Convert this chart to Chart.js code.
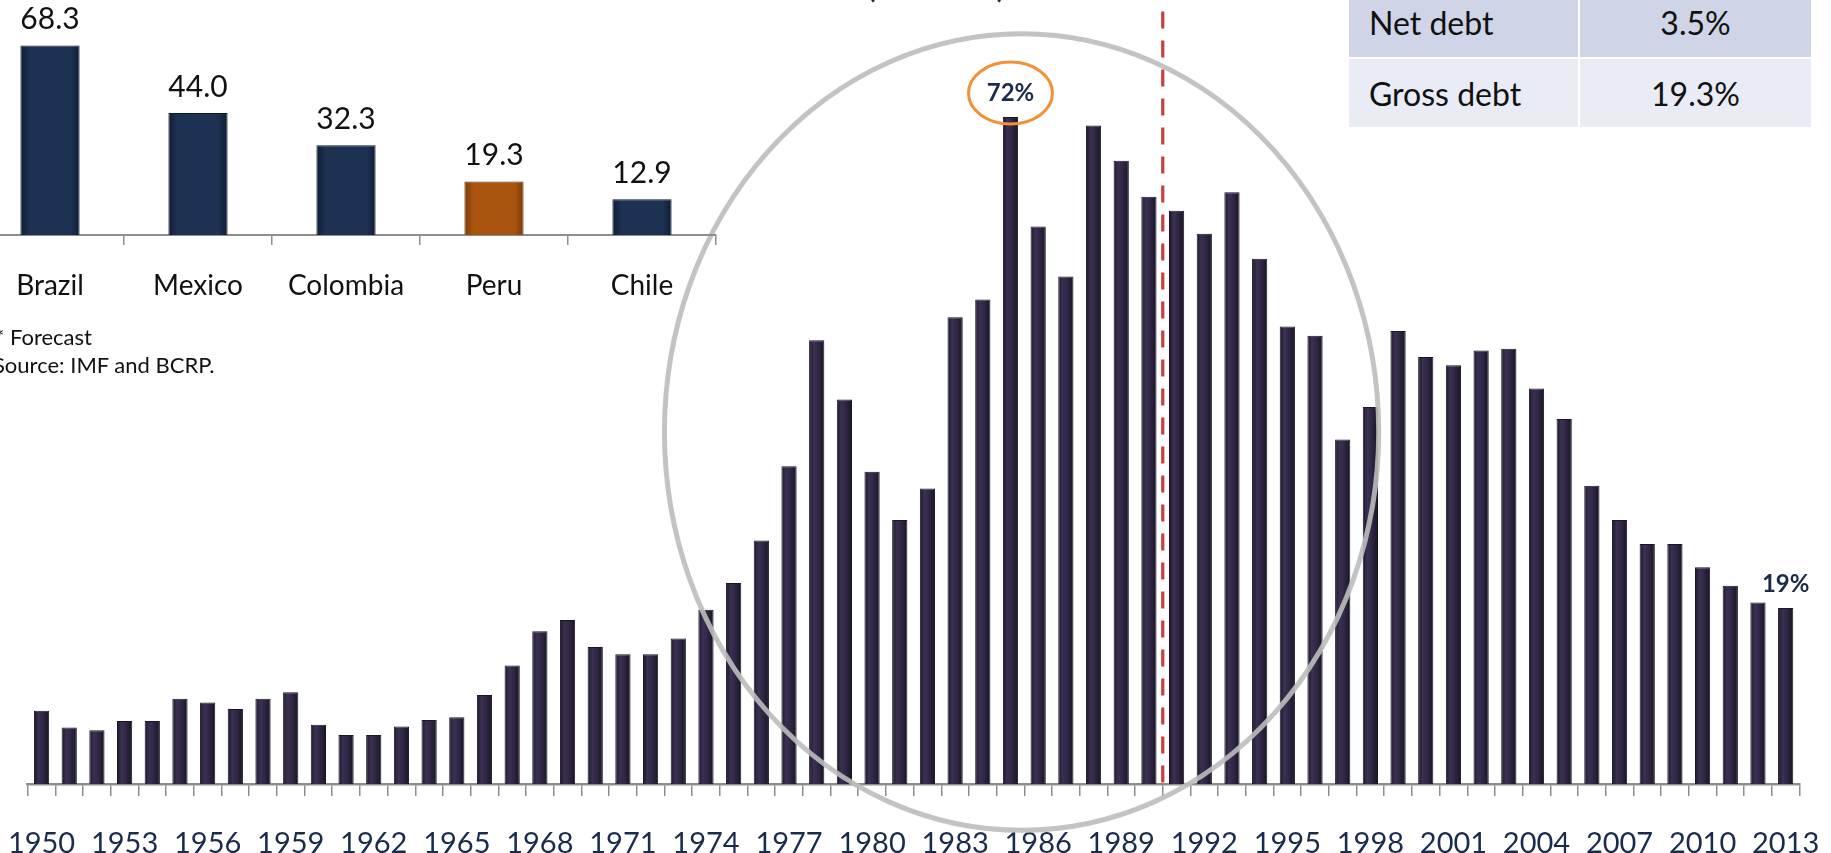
<!DOCTYPE html>
<html lang="en">
<head>
<meta charset="utf-8">
<title>Peru: public debt</title>
<script src="https://cdn.jsdelivr.net/npm/chart.js@4.4.1/dist/chart.umd.min.js"></script>
<style>
  html, body { margin: 0; padding: 0; background: #fff; }
  body { position: relative; width: 1831px; height: 853px; overflow: hidden; font-family: Lato, "Open Sans", sans-serif; }
  canvas { position: absolute; }
  #debtChart { left: 0; top: 0; }
  #peerChart { left: -24px; top: 0; }
  .note { position: absolute; font-size: 22px; line-height: 30px; color: #111; white-space: nowrap; }
  .cell { position: absolute; display: flex; align-items: center; box-sizing: border-box; font-size: 32px; color: #111; white-space: nowrap; }
</style>
</head>
<body>
<canvas id="debtChart" width="1831" height="853"></canvas>
<canvas id="peerChart" width="760" height="300"></canvas>
<div class="note" style="left:-5px;top:322px">* Forecast</div>
<div class="note" style="left:-7px;top:350px">Source: IMF and BCRP.</div>
<div id="ratios"></div>
<script>
// Gross public debt, % of GDP, 1950-2013
const years = [
  1950, 1951, 1952, 1953, 1954, 1955, 1956, 1957, 1958, 1959,
  1960, 1961, 1962, 1963, 1964, 1965, 1966, 1967, 1968, 1969,
  1970, 1971, 1972, 1973, 1974, 1975, 1976, 1977, 1978, 1979,
  1980, 1981, 1982, 1983, 1984, 1985, 1986, 1987, 1988, 1989,
  1990, 1991, 1992, 1993, 1994, 1995, 1996, 1997, 1998, 1999,
  2000, 2001, 2002, 2003, 2004, 2005, 2006, 2007, 2008, 2009,
  2010, 2011, 2012, 2013
];
const grossDebt = [
  7.9, 6.1, 5.8, 6.8, 6.8, 9.2, 8.8, 8.1, 9.2, 9.9,
  6.4, 5.3, 5.3, 6.2, 6.9, 7.2, 9.6, 12.8, 16.5, 17.7,
  14.8, 14.0, 14.0, 15.7, 18.8, 21.7, 26.3, 34.3, 47.9, 41.5,
  33.7, 28.5, 31.9, 50.4, 52.3, 72, 60.2, 54.8, 71.1, 67.3,
  63.4, 61.9, 59.4, 63.9, 56.7, 49.4, 48.4, 37.2, 40.7, 48.9,
  46.1, 45.2, 46.8, 47.0, 42.7, 39.4, 32.2, 28.5, 25.9, 25.9,
  23.4, 21.4, 19.6, 19
];
const tickYears = [1950, 1953, 1956, 1959, 1962, 1965, 1968, 1971, 1974, 1977, 1980,
  1983, 1986, 1989, 1992, 1995, 1998, 2001, 2004, 2007, 2010, 2013];
const labelledYears = [1985, 2013];
const peakYear = 1985;
const lastActualYear = 1990;

// Gross debt 2013, % of GDP, regional peers
const countries = ['Brazil', 'Mexico', 'Colombia', 'Peru', 'Chile'];
const peerDebt = [68.3, 44.0, 32.3, 19.3, 12.9];

// Peru debt ratios
const ratioNames = ['Net debt', 'Gross debt'];
const ratioValues = ['3.5%', '19.3%'];

const NAVY = '#1b2b4b';
const AXIS = '#8e8e8e';

// horizontal shading so each bar reads as a rounded column
function shadeBars(stops) {
  return {
    id: 'shadeBars',
    beforeDatasetsDraw(chart) {
      const { ctx } = chart;
      chart.getDatasetMeta(0).data.forEach((bar, i) => {
        const half = bar.width / 2;
        const g = ctx.createLinearGradient(bar.x - half, 0, bar.x + half, 0);
        const s = typeof stops === 'function' ? stops(i) : stops;
        s.forEach(([p, c]) => g.addColorStop(p, c));
        // resolved options can be shared between bars, so give each bar its own copy
        bar.options = Object.assign({}, bar.options, { backgroundColor: g });
      });
    }
  };
}

// no extra inset for labels hanging over the axis ends
const flushEnds = s => { s.paddingLeft = 0; s.paddingRight = 0; };

const debtAnnotations = {
  id: 'debtAnnotations',
  afterDatasetsDraw(chart) {
    const { ctx, scales: { x, y } } = chart;
    const meta = chart.getDatasetMeta(0);
    ctx.save();

    // divider after the last year of the first period
    const k = years.indexOf(lastActualYear);
    const xd = (x.getPixelForValue(k) + x.getPixelForValue(k + 1)) / 2;
    ctx.strokeStyle = '#c7403e';
    ctx.lineWidth = 3.2;
    ctx.setLineDash([17, 12]);
    ctx.beginPath();
    ctx.moveTo(xd, y.getPixelForValue(83.4));
    ctx.lineTo(xd, y.getPixelForValue(0));
    ctx.stroke();
    ctx.setLineDash([]);

    // highlight ring around the debt build-up years
    const cx = x.getPixelForValue(35.4);
    const rx = x.getPixelForValue(48.3) - cx;
    const cy = y.getPixelForValue(38);
    const ry = y.getPixelForValue(-5) - cy;
    ctx.strokeStyle = 'rgba(188,188,188,0.9)';
    ctx.lineWidth = 5;
    ctx.beginPath();
    ctx.ellipse(cx, cy, rx, ry, 0, 0, Math.PI * 2);
    ctx.stroke();

    // value labels
    ctx.font = 'bold 24px Lato';
    ctx.fillStyle = NAVY;
    ctx.textAlign = 'center';
    ctx.textBaseline = 'middle';
    labelledYears.forEach(yr => {
      const i = years.indexOf(yr);
      const bar = meta.data[i];
      const lx = bar.x, ly = bar.y - 24;
      ctx.fillText(Math.round(grossDebt[i]) + '%', lx, ly);
      if (yr === peakYear) {
        ctx.strokeStyle = '#f0923b';
        ctx.lineWidth = 3;
        ctx.beginPath();
        ctx.ellipse(lx, ly, 42, 31, 0, 0, Math.PI * 2);
        ctx.stroke();
      }
    });

    // chart heading
    ctx.font = 'bold 28px Lato';
    ctx.textBaseline = 'alphabetic';
    ctx.fillText('(% of GDP)', 936, -2);
    ctx.restore();
  }
};

new Chart(document.getElementById('debtChart'), {
  type: 'bar',
  data: {
    labels: years,
    datasets: [{
      data: grossDebt,
      backgroundColor: '#2e2542',
      borderColor: '#1b1526',
      borderWidth: 1,
      barPercentage: 0.55,
      categoryPercentage: 1
    }]
  },
  options: {
    responsive: false,
    animation: false,
    events: [],
    layout: { padding: { left: 27.7, right: 31.5, top: 43, bottom: 0 } },
    plugins: { legend: { display: false }, tooltip: { enabled: false } },
    scales: {
      x: {
        grid: { offset: true, drawOnChartArea: false, tickLength: 12, color: AXIS, lineWidth: 1.5 },
        border: { color: AXIS, width: 2.5 },
        ticks: {
          autoSkip: false, maxRotation: 0, minRotation: 0, padding: 30,
          color: NAVY, font: { family: 'Lato', size: 29 },
          callback: (v, i) => tickYears.includes(years[i]) ? String(years[i]) : ''
        },
        afterFit: s => { s.height = 69; flushEnds(s); }
      },
      y: { display: false, min: 0, max: 80 }
    }
  },
  plugins: [
    shadeBars([[0, '#1d1729'], [0.3, '#3b3052'], [0.6, '#302645'], [1, '#1a1423']]),
    debtAnnotations
  ]
});

const peerLabels = {
  id: 'peerLabels',
  afterDatasetsDraw(chart) {
    const { ctx } = chart;
    const meta = chart.getDatasetMeta(0);
    ctx.save();
    ctx.font = '30px Lato';
    ctx.fillStyle = '#111';
    ctx.textAlign = 'center';
    ctx.textBaseline = 'middle';
    meta.data.forEach((bar, i) => ctx.fillText(peerDebt[i].toFixed(1), bar.x, bar.y - 26));
    ctx.restore();
  }
};

const navyStops = [[0, '#0f1c33'], [0.15, '#1d3152'], [0.85, '#1d3152'], [1, '#0f1c33']];
const rustStops = [[0, '#7c3a08'], [0.15, '#a9540f'], [0.85, '#a9540f'], [1, '#7c3a08']];

new Chart(document.getElementById('peerChart'), {
  type: 'bar',
  data: {
    labels: countries,
    datasets: [{
      data: peerDebt,
      backgroundColor: countries.map(c => c === 'Peru' ? '#a5500f' : '#1b2d4c'),
      borderColor: countries.map(c => c === 'Peru' ? '#6e3306' : '#0d182b'),
      borderWidth: 1,
      barPercentage: 0.4,
      categoryPercentage: 1
    }]
  },
  options: {
    responsive: false,
    animation: false,
    events: [],
    layout: { padding: { left: 0, right: 20, top: 13, bottom: 0 } },
    plugins: { legend: { display: false }, tooltip: { enabled: false } },
    scales: {
      x: {
        grid: { offset: true, drawOnChartArea: false, tickLength: 10, color: AXIS, lineWidth: 1.5 },
        border: { color: AXIS, width: 2 },
        ticks: { maxRotation: 0, padding: 24, color: '#111', font: { family: 'Lato', size: 28 } },
        afterFit: s => { s.height = 65; flushEnds(s); }
      },
      y: { display: false, min: 0, max: 80 }
    }
  },
  plugins: [
    shadeBars(i => countries[i] === 'Peru' ? rustStops : navyStops),
    peerLabels
  ]
});

// ratio table
const ratios = document.getElementById('ratios');
const rowTop = [-13, 59], rowHeight = [70, 68], rowColor = ['#cfd5e6', '#e9ecf4'];
ratioNames.forEach((name, r) => {
  const a = document.createElement('div');
  a.className = 'cell';
  a.style.cssText = `left:1349px;top:${rowTop[r]}px;width:229px;height:${rowHeight[r]}px;background:${rowColor[r]};padding-left:20px;`;
  a.textContent = name;
  const b = document.createElement('div');
  b.className = 'cell';
  b.style.cssText = `left:1580px;top:${rowTop[r]}px;width:231px;height:${rowHeight[r]}px;background:${rowColor[r]};justify-content:center;`;
  b.textContent = ratioValues[r];
  ratios.appendChild(a);
  ratios.appendChild(b);
});
</script>
</body>
</html>
